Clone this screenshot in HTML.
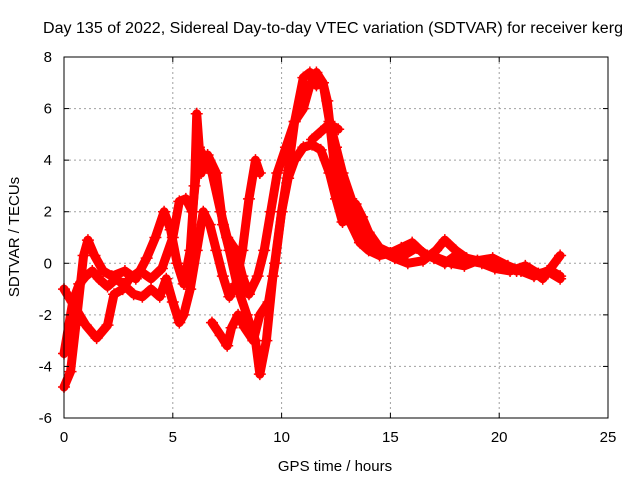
<!DOCTYPE html>
<html><head><meta charset="utf-8"><style>
body{margin:0;background:#fff}
svg{display:block;font-family:"Liberation Sans",sans-serif}
</style></head><body>
<svg id="chart" width="640" height="480">
<rect width="640" height="480" fill="#fff"/>
<text x="333" y="33" text-anchor="middle" font-size="15.5" textLength="580" lengthAdjust="spacingAndGlyphs">Day 135 of 2022, Sidereal Day-to-day VTEC variation (SDTVAR) for receiver kerg</text>
<g id="grid"></g><g id="series"></g><g id="axes"></g>
<text x="335" y="471" text-anchor="middle" font-size="15">GPS time / hours</text>
<text transform="translate(19,237) rotate(-90)" text-anchor="middle" font-size="15">SDTVAR / TECUs</text>
</svg>
<script>
const xTicks=[0,5,10,15,20,25];
const yTicks=[-6,-4,-2,0,2,4,6,8];
const trace1=[[0,-4.8],[0.3,-4.2],[0.6,-2.0],[0.9,0.3],[1.1,0.9],[1.4,0.3],[1.8,-0.3],[2.2,-0.5],[2.8,-0.3],[3.3,-0.6],[3.8,0.2],[4.2,1.0],[4.6,2.0],[4.9,1.3],[5.2,0.0],[5.5,-0.8],[5.8,0.5],[6.0,3.0],[6.1,5.8],[6.3,3.5],[6.6,4.2],[7.0,3.5],[7.3,1.5],[7.6,0.5],[8.0,-1.0],[8.4,-2.0],[8.8,-3.0],[9.0,-4.3],[9.3,-3.0],[9.6,-0.5],[10.0,2.0],[10.3,3.6],[10.6,5.5],[11.0,7.2],[11.3,7.4],[11.6,6.9],[11.9,7.0],[12.1,6.3],[12.4,4.0],[12.8,2.5],[13.2,1.5],[13.6,0.8],[14.0,0.5],[14.5,0.3],[15.0,0.4],[15.5,0.6],[16.0,0.8],[16.5,0.4],[17.0,0.2],[17.5,0.0],[18.0,0.3],[18.6,0.1],[19.2,0.0],[19.8,-0.2],[20.5,-0.3],[21.2,-0.1],[21.8,-0.4],[22.4,-0.3],[22.8,-0.5]];
const trace2=[[0,-1.0],[0.5,-1.7],[1.0,-2.4],[1.5,-2.9],[2.0,-2.4],[2.3,-1.2],[2.7,-1.0],[3.0,-0.6],[3.5,-0.3],[4.0,-0.6],[4.5,-0.2],[5.0,1.0],[5.3,2.4],[5.6,2.5],[5.9,2.0],[6.2,4.5],[6.5,4.0],[6.8,3.5],[7.2,2.0],[7.5,1.0],[7.9,0.5],[8.2,-0.5],[8.5,-1.2],[8.9,-0.5],[9.2,0.5],[9.5,2.0],[9.8,3.5],[10.2,4.5],[10.6,5.5],[11.0,6.0],[11.3,6.9],[11.6,7.4],[11.9,7.0],[12.2,5.5],[12.5,4.5],[12.8,3.5],[13.2,2.5],[13.5,1.5],[13.9,1.0],[14.3,0.6],[14.7,0.4],[15.2,0.2],[15.8,0.0],[16.5,0.1],[17.1,0.5],[17.5,0.9],[18.0,0.5],[18.5,0.2],[19.0,0.1],[19.6,0.0],[20.2,-0.1],[20.8,-0.3],[21.4,-0.2],[22.0,-0.6],[22.8,0.3]];
const trace3=[[0,-3.5],[0.4,-1.5],[0.7,-0.8],[1.0,-0.5],[1.3,-0.3],[1.6,-0.6],[2.0,-0.9],[2.4,-0.6],[2.7,-0.8],[3.2,-1.2],[3.6,-1.3],[4.0,-1.0],[4.4,-1.3],[4.7,-0.6],[5.0,-1.5],[5.3,-2.3],[5.5,-2.0],[5.8,-1.0],[6.1,0.5],[6.4,2.0],[6.7,1.5],[7.0,0.5],[7.3,-0.5],[7.6,-1.3],[7.9,-0.8],[8.2,0.5],[8.5,2.5],[8.8,4.0],[9.0,3.5]];
const trace4=[[6.8,-2.3],[7.2,-2.8],[7.5,-3.2],[7.7,-2.5],[8.0,-2.0],[8.3,-2.5],[8.7,-3.0],[9.0,-2.0],[9.4,-1.5],[9.7,0.0],[10.0,2.0],[10.3,3.3],[10.6,4.0],[11.0,4.5],[11.4,4.6],[11.8,4.4],[12.2,3.5],[12.5,2.5],[12.8,1.6],[13.0,2.0],[13.4,2.3],[13.7,1.8],[14.0,1.2],[14.5,0.6],[15.0,0.4],[15.6,0.3],[16.2,0.6],[16.7,0.3],[17.2,0.2],[17.8,0.0],[18.4,-0.1],[19.0,0.1],[19.7,0.2],[20.4,-0.1],[21.0,-0.3],[21.6,-0.5],[22.2,-0.3],[22.8,-0.6]];
const trace5=[[11.4,4.8],[11.8,5.1],[12.2,5.4],[12.6,5.2]];
const traces=[trace1,trace2,trace3,trace4,trace5];

const X0=64,X1=608,Y0=418,Y1=57,XMIN=0,XMAX=25,YMIN=-6,YMAX=8;
const sx=t=>X0+(t-XMIN)/(XMAX-XMIN)*(X1-X0);
const sy=v=>Y0-(v-YMIN)/(YMAX-YMIN)*(Y0-Y1);
const NS="http://www.w3.org/2000/svg";
function mk(tag,attrs,parent){const e=document.createElementNS(NS,tag);for(const k in attrs)e.setAttribute(k,attrs[k]);parent.appendChild(e);return e;}
const grid=document.getElementById('grid'),axes=document.getElementById('axes'),ser=document.getElementById('series');
xTicks.forEach(t=>{
  if(t>XMIN&&t<XMAX){const g=mk('line',{x1:sx(t),x2:sx(t),y1:Y1,y2:Y0,stroke:'#a0a0a0','stroke-dasharray':'2,3'},grid);
  
  }
  const l=mk('text',{x:sx(t),y:Y0+24,'text-anchor':'middle','font-size':15},axes);l.textContent=t;
  
  
  mk('line',{x1:sx(t),x2:sx(t),y1:Y0,y2:Y0-5,stroke:'#000'},axes);
  mk('line',{x1:sx(t),x2:sx(t),y1:Y1,y2:Y1+5,stroke:'#000'},axes);
});
yTicks.forEach(v=>{
  if(v>YMIN&&v<YMAX){const g=mk('line',{x1:X0,x2:X1,y1:sy(v),y2:sy(v),stroke:'#a0a0a0','stroke-dasharray':'2,3'},grid);
  
  }
  const l=mk('text',{x:X0-12,y:sy(v)+5,'text-anchor':'end','font-size':15},axes);l.textContent=v;
  
  
  mk('line',{x1:X0,x2:X0+5,y1:sy(v),y2:sy(v),stroke:'#000'},axes);
  mk('line',{x1:X1,x2:X1-5,y1:sy(v),y2:sy(v),stroke:'#000'},axes);
});
const box=mk('rect',{x:X0,y:Y1,width:X1-X0,height:Y0-Y1,fill:'none',stroke:'#000'},axes);


traces.forEach((tr,i)=>{
  const g=mk('g',{},ser);
  
  
  mk('polyline',{points:tr.map(p=>sx(p[0])+','+sy(p[1])).join(' '),fill:'none',stroke:'#f00','stroke-width':9,'stroke-linejoin':'round','stroke-linecap':'round'},g);
  tr.forEach(p=>{
    const x=sx(p[0]),y=sy(p[1]);
    const m=mk('path',{d:`M${x-6},${y}H${x+6}M${x},${y-6}V${y+6}`,stroke:'#f00','stroke-width':1.5},g);
    
    
  });
});
</script>
</body></html>
